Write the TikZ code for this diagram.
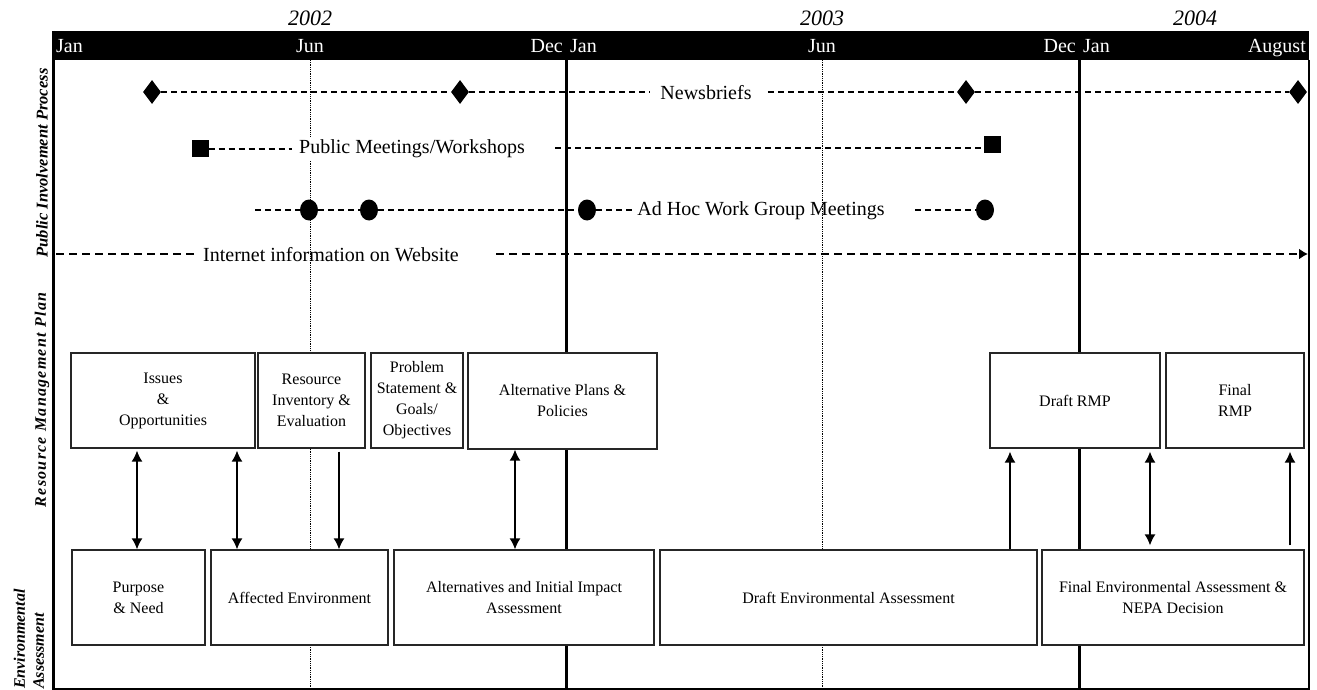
\documentclass[tikz,border=0pt]{standalone}
\usepackage{fontspec}
\setmainfont{Liberation Serif}
\newfontfamily\spacedfont[LetterSpace=8]{Liberation Serif}
\usetikzlibrary{arrows.meta,shapes.geometric}
\tikzset{
  box/.style={draw=black!85,line width=1.3pt,fill=white,align=center,inner sep=2pt,
    font=\fontsize{16}{21}\selectfont},
  lbl/.style={inner sep=0pt,font=\fontsize{20}{24}\selectfont},
  hdr/.style={inner sep=0pt,text=white,font=\fontsize{20}{24}\selectfont},
  yr/.style={inner sep=0pt,font=\fontsize{22}{26}\selectfont\itshape},
  side/.style={rotate=90,inner sep=0pt,font=\fontsize{16.5}{18}\selectfont\bfseries\itshape},
  dline/.style={line width=1.15pt,dash pattern=on 6pt off 4pt},
  dlinethick/.style={line width=1.8pt,dash pattern=on 8pt off 5pt},
  dia/.style={diamond,fill=black,inner sep=0pt,minimum width=18pt,minimum height=24pt},
  sq/.style={rectangle,fill=black,inner sep=0pt,minimum size=17pt},
  dot/.style={ellipse,fill=black,inner sep=0pt,minimum width=18pt,minimum height=21pt},
  conn/.style={line width=1.4pt,-{Latex[length=11pt,width=11pt]}},
  conn2/.style={line width=1.4pt,{Latex[length=11pt,width=11pt]}-{Latex[length=11pt,width=11pt]}},
  thickv/.style={line width=3pt},
  dotv/.style={line width=0.8pt,densely dotted}
}
\begin{document}
\begin{tikzpicture}[x=1pt,y=-1pt]
\useasboundingbox (0,0) rectangle (1317,690);
% header bar
\fill[black] (53,31) rectangle (1309,60);
\node[hdr,anchor=base west] (m1) at (56,53) {Jan};
\node[hdr,anchor=base] (m2) at (310,53) {Jun};
\node[hdr,anchor=base east] (m3) at (563,53) {Dec};
\node[hdr,anchor=base west] (m4) at (570,53) {Jan};
\node[hdr,anchor=base] (m5) at (822,53) {Jun};
\node[hdr,anchor=base east] (m6) at (1076,53) {Dec};
\node[hdr,anchor=base west] (m7) at (1083,53) {Jan};
\node[hdr,anchor=base east] (m8) at (1306,53) {August};
\node[yr,anchor=base] (y1) at (310,26) {2002};
\node[yr,anchor=base] (y2) at (822,26) {2003};
\node[yr,anchor=base] (y3) at (1195,26) {2004};
% frame
\draw[line width=3pt] (53,31) -- (53,690);
\draw[line width=2pt] (1309,60) -- (1309,690);
\draw[line width=1.5pt] (53,689) -- (1309,689);
% vertical guides
\draw[thickv] (566,60) -- (566,689);
\draw[thickv] (1079,60) -- (1079,689);
\draw[dotv] (310,60) -- (310,689);
\draw[dotv] (822,60) -- (822,689);
% side labels
\node[side] (s1) at (42,163) {Public Involvement Process};
\node[side,font=\fontsize{16}{18}\selectfont\bfseries\itshape\spacedfont] (s2) at (42,400) {Resource Management Plan};
\node[side,anchor=west,align=left,font=\fontsize{16}{19}\selectfont\bfseries\itshape] (s3) at (29,689) {Environmental\\Assessment};
% row 1: Newsbriefs
\node[dia] (d1) at (152,92) {};
\node[dia] (d2) at (460,92) {};
\node[dia] (d3) at (966,92) {};
\node[dia] (d4) at (1298,92) {};
\node[lbl,inner xsep=10pt] (nb) at (706,93) {Newsbriefs};
\draw[dline] (d1) -- (d2);
\draw[dline] (d2) -- (nb.west |- d2);
\draw[dline] ([xshift=6pt]nb.east |- d3) -- (d3);
\draw[dline] (d3) -- (d4);
% row 2: Public meetings
\node[sq] (q1) at (200,149) {};
\node[sq] (q2) at (992,145) {};
\node[lbl,fill=white,inner xsep=7pt,inner ysep=3pt] (pm) at (412,149) {Public Meetings/Workshops};
\coordinate (pmr) at (555,148);
\draw[dline] (q1) -- (pm.west |- q1);
\draw[dline] (pmr) -- (q2.west |- pmr);
% row 3: Ad hoc
\coordinate (ah0) at (255,210);
\node[dot] (c1) at (309,210) {};
\node[dot] (c2) at (369,210) {};
\node[dot] (c3) at (587,210) {};
\node[dot] (c4) at (985,210) {};
\node[lbl,inner xsep=5pt] (ah) at (761,211) {Ad Hoc Work Group Meetings};
\coordinate (ahr) at (915,210);
\draw[dline] (ah0) -- (c1);
\draw[dline] (c1) -- (c2);
\draw[dline] (c2) -- (c3);
\draw[dline] (c3) -- (ah.west |- c3);
\draw[dline] (ahr) -- (c4);
% row 4: Internet
\coordinate (in0) at (56,254);
\coordinate (in1) at (496,254);
\coordinate (in2) at (1308,254);
\node[lbl,inner xsep=9pt] (iw) at (331,255) {Internet information on Website};
\draw[dlinethick] (in0) -- (iw.west |- in0);
\draw[dlinethick,-{Latex[length=9pt,width=11pt]}] (in1) -- (in2);
% RMP boxes
\node[box,minimum width=184pt,minimum height=95pt] (io) at (163,400.5) {Issues\\\&\\Opportunities};
\node[box,minimum width=107pt,minimum height=95pt] (ri) at (311.5,400.5) {Resource\\Inventory \&\\Evaluation};
\node[box,minimum width=92pt,minimum height=95pt,inner sep=1pt] (ps) at (417,400.5) {Problem\\Statement \&\\Goals/\\Objectives};
\node[box,minimum width=189pt,minimum height=96pt] (ap) at (562.5,401) {Alternative Plans \&\\Policies};
\node[box,minimum width=170pt,minimum height=95pt] (dr) at (1075,400.5) {Draft RMP};
\node[box,minimum width=138pt,minimum height=95pt] (fr) at (1235,400.5) {Final\\RMP};
% EA boxes
\node[box,minimum width=133pt,minimum height=95pt] (pn) at (138.5,597.5) {Purpose\\\& Need};
\node[box,minimum width=177pt,minimum height=95pt] (ae) at (299.5,597.5) {Affected Environment};
\node[box,minimum width=260pt,minimum height=95pt] (ai) at (524,597.5) {Alternatives and Initial Impact\\Assessment};
\node[box,minimum width=377pt,minimum height=95pt] (de) at (848.5,597.5) {Draft Environmental Assessment};
\node[box,minimum width=262pt,minimum height=95pt] (fe) at (1173,597.5) {Final Environmental Assessment \&\\NEPA Decision};
% connector columns
\coordinate (k1) at (137,0);
\coordinate (k2) at (237,0);
\coordinate (k3) at (339,0);
\coordinate (k4) at (515,0);
\coordinate (k5) at (1010,0);
\coordinate (k6) at (1150,0);
\coordinate (k7) at (1290,0);
\draw[conn2] ([yshift=-2pt]io.south -| k1) -- (pn.north -| k1);
\draw[conn2] ([yshift=-2pt]io.south -| k2) -- (ae.north -| k2);
\draw[conn] ([yshift=-3pt]ri.south -| k3) -- (ae.north -| k3);
\draw[conn2] (ap.south -| k4) -- (ai.north -| k4);
\draw[conn] (de.north -| k5) -- ([yshift=-3pt]dr.south -| k5);
\draw[conn2] ([yshift=-3pt]dr.south -| k6) -- ([yshift=4pt]fe.north -| k6);
\draw[conn] ([yshift=4pt]fe.north -| k7) -- ([yshift=-3pt]fr.south -| k7);
\end{tikzpicture}
\end{document}
